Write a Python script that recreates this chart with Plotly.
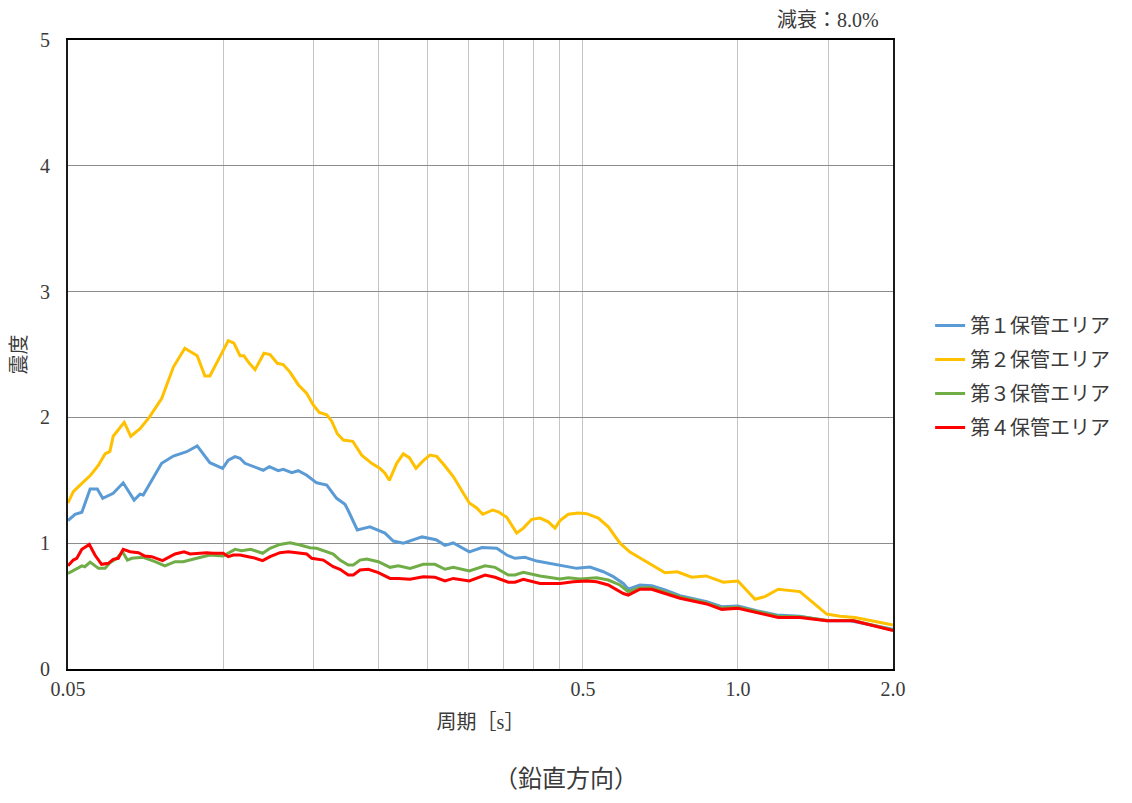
import plotly.graph_objects as go

# ---- data ----
names = ["第１保管エリア", "第２保管エリア", "第３保管エリア", "第４保管エリア"]
colors = ["#5B9BD5", "#FFC000", "#70AD47", "#FF0000"]

# 第１保管エリア
t1 = [0.05, 0.0516, 0.0532, 0.0552, 0.0570, 0.0584, 0.0612, 0.0640, 0.0672, 0.0690, 0.0700,
      0.0760, 0.0801, 0.0850, 0.0891, 0.0943, 0.0998, 0.1024, 0.1055, 0.1079, 0.1103, 0.1197,
      0.1230, 0.1280, 0.1309, 0.1360, 0.1400, 0.1454, 0.1520, 0.1590, 0.1662, 0.1725, 0.1751,
      0.1823, 0.1929, 0.2063, 0.2141, 0.2239, 0.2435, 0.2592, 0.2698, 0.2800, 0.3008, 0.3184,
      0.3400, 0.3556, 0.3690, 0.3859, 0.4066, 0.4282, 0.4513, 0.4862, 0.5160, 0.5476, 0.5726,
      0.5988, 0.6124, 0.6452, 0.6800, 0.7217, 0.7716, 0.8192, 0.8696, 0.9300, 1.0, 1.087,
      1.189, 1.319, 1.487, 1.650, 1.805, 2.0]
v1 = [1.18, 1.23, 1.246, 1.43, 1.43, 1.357, 1.397, 1.48, 1.343, 1.389, 1.383,
      1.635, 1.693, 1.727, 1.773, 1.64, 1.595, 1.66, 1.688, 1.675, 1.635, 1.58,
      1.608, 1.576, 1.587, 1.56, 1.576, 1.54, 1.48, 1.462, 1.357, 1.31, 1.258,
      1.105, 1.13, 1.08, 1.017, 1.00, 1.05, 1.028, 0.983, 1.002, 0.931, 0.965,
      0.96, 0.906, 0.88, 0.888, 0.858, 0.84, 0.82, 0.80, 0.81, 0.773, 0.734,
      0.68, 0.634, 0.668, 0.662, 0.628, 0.583, 0.556, 0.535, 0.495, 0.50, 0.463,
      0.43, 0.42, 0.384, 0.384, 0.35, 0.316]

# 第２保管エリア
t2 = [0.05, 0.0512, 0.0532, 0.0553, 0.0573, 0.0590, 0.0603, 0.0612, 0.0643, 0.0662, 0.0690,
      0.0719, 0.0760, 0.0801, 0.0843, 0.0891, 0.0922, 0.0943, 0.1024, 0.1050, 0.1079, 0.1098,
      0.1125, 0.1154, 0.1201, 0.1234, 0.1275, 0.1309, 0.1349, 0.1400, 0.1454, 0.1497, 0.1538,
      0.1590, 0.1626, 0.1667, 0.1712, 0.1786, 0.1859, 0.1944, 0.2018, 0.2063, 0.2104, 0.2174,
      0.2239, 0.2300, 0.2370, 0.2449, 0.2523, 0.2600, 0.2698, 0.2800, 0.2886, 0.3008, 0.3109,
      0.3194, 0.3340, 0.3425, 0.3556, 0.3718, 0.3830, 0.3976, 0.4127, 0.4282, 0.4413, 0.4513,
      0.4683, 0.4897, 0.5084, 0.5355, 0.5600, 0.5900, 0.6170, 0.6310, 0.6750, 0.7217, 0.7624,
      0.8133, 0.8669, 0.9365, 1.0, 1.079, 1.128, 1.197, 1.319, 1.487, 1.578, 1.687, 1.859, 2.0]
v2 = [1.32, 1.41, 1.476, 1.54, 1.62, 1.71, 1.73, 1.85, 1.96, 1.85, 1.91,
      2.00, 2.15, 2.40, 2.55, 2.49, 2.33, 2.33, 2.61, 2.59, 2.49, 2.49,
      2.43, 2.38, 2.51, 2.50, 2.43, 2.42, 2.36, 2.26, 2.19, 2.10, 2.04,
      2.02, 1.97, 1.87, 1.82, 1.81, 1.70, 1.635, 1.595, 1.556, 1.50, 1.635,
      1.71, 1.68, 1.595, 1.656, 1.70, 1.69, 1.614, 1.53, 1.44, 1.32, 1.28,
      1.23, 1.264, 1.25, 1.206, 1.08, 1.12, 1.19, 1.20, 1.17, 1.12, 1.18,
      1.23, 1.24, 1.235, 1.20, 1.13, 1.00, 0.93, 0.906, 0.84, 0.765, 0.773,
      0.73, 0.74, 0.69, 0.70, 0.554, 0.575, 0.634, 0.615, 0.437, 0.42, 0.41, 0.376, 0.35]

# 第３保管エリア
t3 = [0.05, 0.0520, 0.0532, 0.0539, 0.0552, 0.0573, 0.0590, 0.0603, 0.0622, 0.0638, 0.0652,
      0.0665, 0.0700, 0.0738, 0.0771, 0.0807, 0.0837, 0.0889, 0.0943, 0.1001, 0.1055, 0.1087,
      0.1132, 0.1194, 0.1234, 0.1290, 0.1349, 0.1411, 0.1475, 0.1520, 0.1590, 0.1637, 0.1687,
      0.1751, 0.1791, 0.1845, 0.1901, 0.2003, 0.2110, 0.2190, 0.2308, 0.2449, 0.2580, 0.2698,
      0.2800, 0.3008, 0.3227, 0.3375, 0.3581, 0.3690, 0.3830, 0.4127, 0.4513, 0.4683, 0.4934,
      0.5317, 0.5600, 0.5900, 0.6124, 0.6452, 0.6800, 0.7217, 0.7716, 0.8696, 0.9300, 1.0,
      1.087, 1.197, 1.319, 1.487, 1.675, 2.0]
v3 = [0.76, 0.80, 0.82, 0.813, 0.85, 0.80, 0.80, 0.845, 0.88, 0.932, 0.866,
      0.88, 0.888, 0.853, 0.82, 0.853, 0.853, 0.88, 0.906, 0.898, 0.951, 0.94,
      0.951, 0.92, 0.96, 0.99, 1.004, 0.986, 0.964, 0.96, 0.932, 0.914, 0.866,
      0.827, 0.827, 0.866, 0.874, 0.853, 0.808, 0.82, 0.80, 0.832, 0.832, 0.793,
      0.808, 0.779, 0.82, 0.808, 0.747, 0.747, 0.769, 0.739, 0.715, 0.726, 0.715,
      0.726, 0.707, 0.668, 0.614, 0.645, 0.645, 0.612, 0.572, 0.525, 0.484, 0.49,
      0.455, 0.42, 0.415, 0.388, 0.386, 0.31]

# 第４保管エリア
t4 = [0.05, 0.0512, 0.0520, 0.0532, 0.0550, 0.0564, 0.0581, 0.0599, 0.0612, 0.0626, 0.0640,
      0.0660, 0.0685, 0.0705, 0.0727, 0.0763, 0.0807, 0.0840, 0.0863, 0.0929, 0.0957, 0.1001,
      0.1024, 0.1047, 0.1079, 0.1103, 0.1145, 0.1194, 0.1234, 0.1290, 0.1339, 0.1390, 0.1454,
      0.1487, 0.1566, 0.1637, 0.1687, 0.1751, 0.1791, 0.1845, 0.1915, 0.2003, 0.2110, 0.2190,
      0.2308, 0.2449, 0.2580, 0.2698, 0.2800, 0.3008, 0.3227, 0.3375, 0.3581, 0.3690, 0.3830,
      0.4127, 0.4513, 0.4788, 0.5084, 0.5317, 0.5600, 0.5988, 0.6124, 0.6452, 0.6800, 0.7217,
      0.7716, 0.8696, 0.9300, 1.0, 1.087, 1.197, 1.319, 1.487, 1.675, 2.0]
v4 = [0.82, 0.866, 0.88, 0.951, 0.99, 0.906, 0.832, 0.84, 0.872, 0.88, 0.951,
      0.932, 0.925, 0.898, 0.893, 0.861, 0.914, 0.932, 0.914, 0.925, 0.92, 0.92,
      0.893, 0.906, 0.906, 0.898, 0.885, 0.861, 0.893, 0.925, 0.932, 0.925, 0.914,
      0.88, 0.866, 0.813, 0.792, 0.747, 0.747, 0.787, 0.792, 0.766, 0.72, 0.72,
      0.713, 0.734, 0.729, 0.70, 0.72, 0.70, 0.747, 0.729, 0.69, 0.69, 0.713,
      0.68, 0.68, 0.694, 0.70, 0.694, 0.668, 0.60, 0.588, 0.634, 0.634, 0.60,
      0.562, 0.517, 0.474, 0.482, 0.447, 0.41, 0.41, 0.384, 0.384, 0.305]

x_tickvals = [0.05, 0.1, 0.15, 0.2, 0.25, 0.3, 0.35, 0.4, 0.45, 0.5, 1.0, 1.5, 2.0]
x_ticktext = ["0.05", "", "", "", "", "", "", "", "", "0.5", "1.0", "", "2.0"]
y_tickvals = [0, 1, 2, 3, 4, 5]

series = [(t1, v1), (t2, v2), (t3, v3), (t4, v4)]

FONT = "Liberation Serif, Noto Sans CJK JP, serif"
TXT = "#3a3a3a"

fig = go.Figure()
for i, ((t, v), name, c) in enumerate(zip(series, names, colors)):
    fig.add_trace(go.Scatter(
        x=t, y=v, mode="lines", name=name,
        line=dict(color=c, width=3),
        legendgroup=f"g{i}",
    ))

# page body has an 8px margin: figure sized to fit the 1132x803 window
fig.update_layout(
    width=1124, height=787,
    margin=dict(l=60, r=239, t=32, b=126),
    paper_bgcolor="white", plot_bgcolor="white",
    font=dict(family=FONT, size=20, color=TXT),
    showlegend=True,
    legend=dict(
        x=1.045, y=0.577, xanchor="left", yanchor="top",
        font=dict(family=FONT, size=20, color=TXT),
        tracegroupgap=5, bgcolor="rgba(0,0,0,0)",
    ),
    xaxis=dict(
        type="log", range=[-1.30103, 0.30103],
        tickvals=x_tickvals, ticktext=x_ticktext,
        showgrid=True, gridcolor="#c4c4c4", gridwidth=1,
        showline=True, linecolor="#000000", linewidth=2, mirror=True,
        ticks="outside", ticklen=1, tickcolor="rgba(0,0,0,0)",
        tickfont=dict(family=FONT, size=20, color=TXT),
        title=dict(text="周期［s］", font=dict(family=FONT, size=20, color=TXT), standoff=16),
        zeroline=False, automargin=False,
    ),
    yaxis=dict(
        range=[0, 5], tickvals=y_tickvals,
        showgrid=True, gridcolor="#8c8c8c", gridwidth=1,
        showline=True, linecolor="#1a1a1a", linewidth=2, mirror=True,
        ticks="outside", ticklen=12, tickcolor="rgba(0,0,0,0)",
        tickfont=dict(family=FONT, size=20, color=TXT),
        title=dict(text="震度", font=dict(family=FONT, size=20, color=TXT), standoff=12),
        zeroline=False, automargin=False,
    ),
    annotations=[
        dict(text="減衰：8.0%", xref="paper", yref="paper", x=0.985, y=1.0,
             xanchor="right", yanchor="bottom", yshift=7, showarrow=False,
             font=dict(family=FONT, size=20, color=TXT)),
        dict(text="（鉛直方向）", xref="paper", yref="paper", x=0.6036, y=-0.175,
             xanchor="center", yanchor="middle", showarrow=False,
             font=dict(family=FONT, size=24, color=TXT)),
    ],
)

fig.write_html("out.html")
